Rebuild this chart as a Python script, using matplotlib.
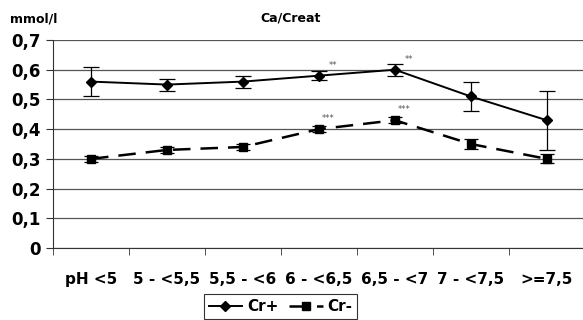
import matplotlib
matplotlib.use("Agg")
import matplotlib.pyplot as plt
from matplotlib.lines import Line2D
import numpy as np

plt.rcParams['font.family'] = ['DejaVu Sans']

# pH classes
categories = ["pH <5", "5 - <5,5", "5,5 - <6", "6 - <6,5", "6,5 - <7", "7 - <7,5", ">=7,5"]

# Ca/Creat mean values and error
cr_plus = [0.56, 0.55, 0.56, 0.58, 0.60, 0.51, 0.43]
cr_plus_err = [0.05, 0.02, 0.02, 0.015, 0.02, 0.05, 0.10]
cr_minus = [0.30, 0.33, 0.34, 0.40, 0.43, 0.35, 0.30]
cr_minus_err = [0.01, 0.01, 0.01, 0.01, 0.01, 0.017, 0.015]

# significance marks
sig_plus = ["", "", "", "**", "**", "", ""]
sig_minus = ["", "", "", "***", "***", "", ""]

fig = plt.figure(figsize=(5.83, 3.2), dpi=100)
ax = fig.add_axes([0.091, 0.225, 0.912, 0.65])

x = np.arange(len(categories))

plus_style = dict(color="black", lw=1.4, marker="D", ms=5.5)
minus_style = dict(color="black", lw=1.8, marker="s", ms=6, linestyle=(0, (7, 4)))

ax.errorbar(x, cr_plus, yerr=cr_plus_err, capsize=6, elinewidth=0.9, capthick=0.9,
            zorder=3, **plus_style)
ax.errorbar(x, cr_minus, yerr=cr_minus_err, capsize=5, elinewidth=0.9, capthick=0.9,
            zorder=3, **minus_style)

for i in range(len(x)):
    if sig_plus[i]:
        ax.text(x[i] + 0.18, cr_plus[i] + 0.02, sig_plus[i], fontsize=6, color="#555555",
                ha="center", va="bottom")
    if sig_minus[i]:
        ax.text(x[i] + 0.12, cr_minus[i] + 0.02, sig_minus[i], fontsize=6, color="#555555",
                ha="center", va="bottom")

ax.set_ylim(0, 0.7)
ax.set_xlim(-0.5, len(categories) - 0.5)
yt = np.arange(0, 0.71, 0.1)
ax.set_yticks(yt)
ax.set_yticklabels(["0"] + [("%.1f" % v).replace(".", ",") for v in yt[1:]],
                   fontsize=12, fontweight="bold")
ax.yaxis.grid(True, color="#555555", lw=0.9)
ax.set_axisbelow(True)

ax.set_xticks(x)
ax.set_xticklabels(categories, fontsize=11, fontweight="bold")
ax.set_xticks(np.arange(-0.5, len(categories)), minor=True)
ax.tick_params(axis="x", which="major", length=0, pad=17)
ax.tick_params(axis="x", which="minor", length=5, color="#333333")
ax.tick_params(axis="y", length=5, pad=4, color="#333333")

for s in ["top", "right"]:
    ax.spines[s].set_visible(False)
ax.spines["left"].set_color("#333333")
ax.spines["bottom"].set_color("#333333")

fig.text(0.017, 0.94, "mmol/l", fontsize=9, fontweight="bold", va="center")
fig.text(0.499, 0.945, "Ca/Creat", fontsize=9, fontweight="bold", va="center", ha="center")

handles = [Line2D([], [], **plus_style), Line2D([], [], **minus_style)]
leg = fig.legend(handles, ["Cr+", "Cr-"], loc="upper center", bbox_to_anchor=(0.481, 0.08),
                 ncol=2, prop={"size": 11, "weight": "bold"}, frameon=True, fancybox=False,
                 handlelength=2.2, handletextpad=0.3, columnspacing=0.7,
                 borderpad=0.3, borderaxespad=0)
leg.get_frame().set_edgecolor("black")
leg.get_frame().set_linewidth(0.8)

fig.savefig("out.png", dpi=100)
